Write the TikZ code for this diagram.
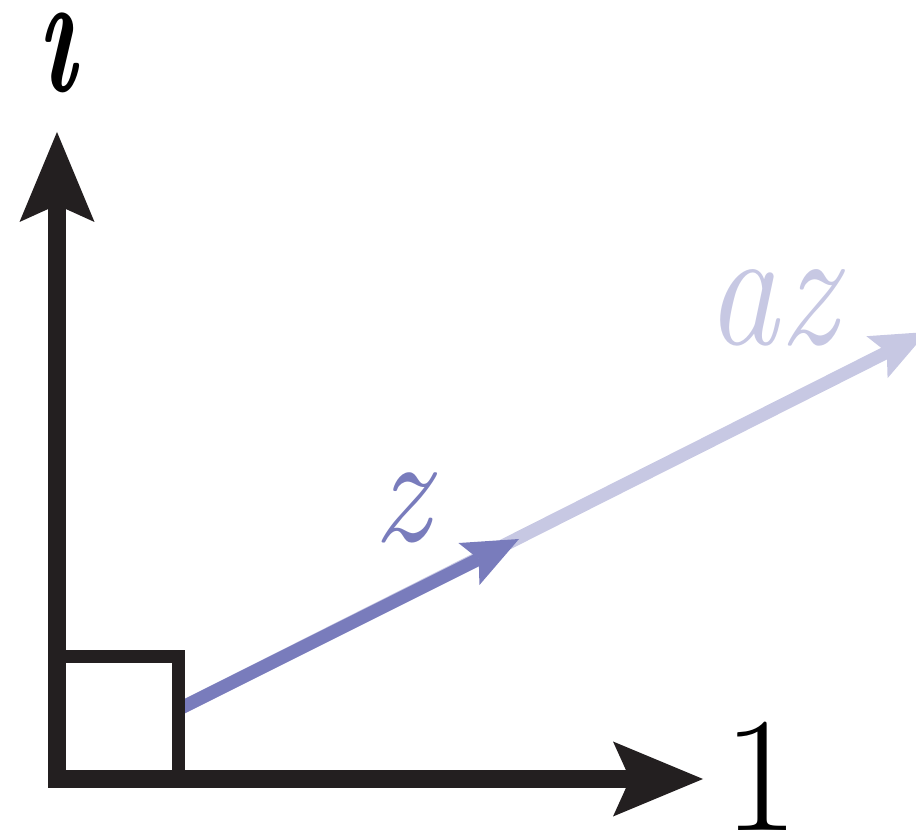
\documentclass[tikz,border=0pt]{standalone}
\usepackage{fontspec}
\usepackage{graphicx}
\usepackage{tikz}
\usetikzlibrary{arrows.meta}
\definecolor{ink}{HTML}{231F20}
\definecolor{zblue}{HTML}{797CBC}
\definecolor{zpale}{HTML}{C7C8E3}
\tikzset{
  axtip/.tip={Stealth[length=45pt,width=37.5pt,inset=8.5pt,line width=0pt]},
  ztip/.tip={Stealth[length=28pt,width=23.5pt,inset=5.5pt,line width=0pt]},
  axis/.style={draw=ink,line width=9pt,line join=miter,axtip-axtip},
  corner/.style={draw=ink,line width=6.5pt,line join=miter},
  vec/.style={draw=zblue,line width=6.5pt,-ztip},
  vecpale/.style={vec,draw=zpale},
  lbl/.style={inner sep=0pt,font=\fontsize{80}{80}\selectfont},
}
\begin{document}
\begin{tikzpicture}[x=0.5pt,y=-0.5pt]
  \useasboundingbox (0,0) rectangle (916,833);
  \clip (0,0) rectangle (916,833);
  % points (pixel grid of the figure)
  \coordinate (O)    at (57,779);
  \coordinate (itip) at (57,132);
  \coordinate (rtip) at (703,779);
  \coordinate (zs)   at (177,710);
  \coordinate (zend) at (519,539);
  \coordinate (azend) at (927,332);
  % the vectors z and az
  \draw[vecpale] (zs) -- (azend);
  \draw[vec] (zs) -- (zend);
  % right-angle mark and axes
  \draw[corner] (57,656.5) -| (178.5,779);
  \draw[axis] (itip) -- (O) -- (rtip);
  % labels
  \node[lbl,font=\fontsize{87}{87}\selectfont\bfseries\itshape] (ilbl) at (57,53) {\scalebox{0.62}[1]{\i}};
  \node[lbl,font=\fontsize{82}{82}\selectfont] (onelbl) at (761,776) {1};
  \node[lbl,text=zblue,font=\fontsize{78}{78}\selectfont\itshape] (zlbl) at (402,508) {\scalebox{0.9}[1]{z}};
  \node[lbl,text=zpale,font=\fontsize{85}{85}\selectfont\itshape] (azlbl) at (772,308) {\scalebox{0.85}[1]{az}};
\end{tikzpicture}
\end{document}
